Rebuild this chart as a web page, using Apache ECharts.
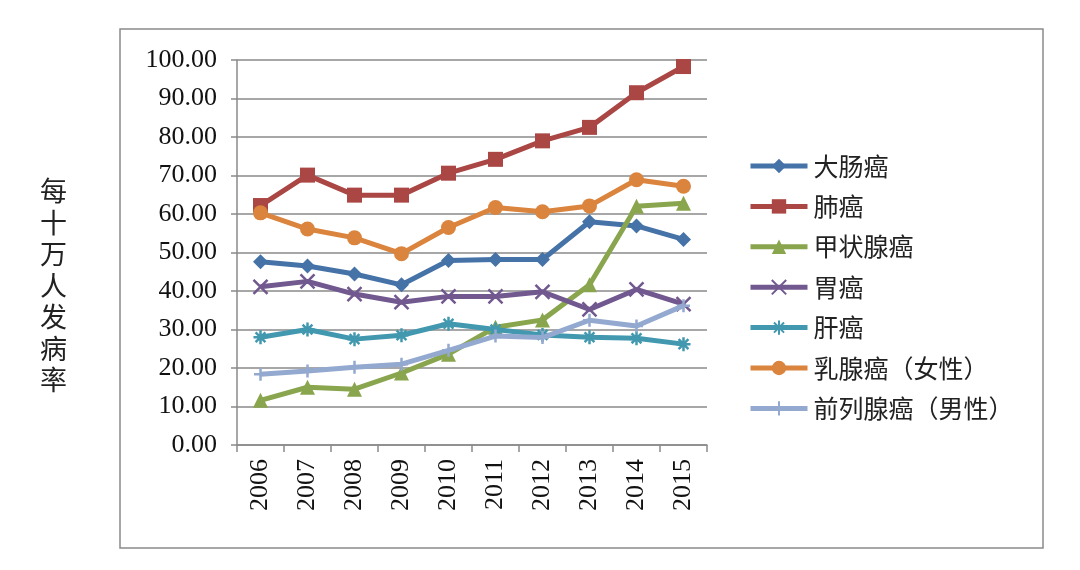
<!DOCTYPE html>
<html>
<head>
<meta charset="utf-8">
<script src="https://cdn.jsdelivr.net/npm/echarts@6/dist/echarts.min.js"></script>
<style>html,body{margin:0;padding:0;background:#fff;}#c{width:1080px;height:570px;}</style>
</head>
<body>
<div id="c"></div>
<script>
const years = ['2006','2007','2008','2009','2010','2011','2012','2013','2014','2015'];
const names = ['大肠癌','肺癌','甲状腺癌','胃癌','肝癌','乳腺癌（女性）','前列腺癌（男性）'];
const colorectal = [47.6, 46.5, 44.4, 41.6, 47.9, 48.2, 48.2, 58.0, 56.9, 53.4];
const lung       = [62.2, 70.1, 64.9, 64.9, 70.6, 74.2, 79.0, 82.5, 91.5, 98.3];
const thyroid    = [11.6, 15.0, 14.5, 18.7, 23.6, 30.6, 32.5, 41.6, 62.0, 62.8];
const stomach    = [41.1, 42.5, 39.2, 37.1, 38.6, 38.6, 39.8, 35.2, 40.4, 36.6];
const liver      = [28.0, 30.0, 27.5, 28.5, 31.5, 30.0, 28.6, 28.0, 27.7, 26.2];
const breast     = [60.3, 56.1, 53.8, 49.7, 56.5, 61.7, 60.6, 62.1, 68.9, 67.2];
const prostate   = [18.4, 19.2, 20.2, 21.0, 24.6, 28.3, 27.9, 32.4, 30.9, 36.2];
const yTitle = '每十万人发病率';

const colors = ['#4572A7','#AA4643','#89A54E','#71588F','#4198AF','#DB843D','#93A9CF'];
const xPath = 'path://M0,0 L10,10 M10,0 L0,10';
const starPath = 'path://M0,5 L10,5 M5,0 L5,10 M1.5,1.5 L8.5,8.5 M8.5,1.5 L1.5,8.5';
const plusPath = 'path://M0,5 L10,5 M5,0 L5,10';
const symbols = ['diamond','rect','triangle',xPath,starPath,'circle',plusPath];
const sizes = [15,15,15,14,14,15,13];
const datas = [colorectal,lung,thyroid,stomach,liver,breast,prostate];

const series = names.map((n,i)=>{
  const strokeOnly = (i===3||i===4||i===6);
  return {
    name:n, type:'line', data:datas[i],
    symbol:symbols[i], symbolSize:sizes[i],
    showAllSymbol:true,
    lineStyle:{color:colors[i], width:5},
    itemStyle: strokeOnly ? {color:colors[i], borderColor:colors[i], borderWidth:2.5} : {color:colors[i]},
    z: 2 + i
  };
});

const chart = echarts.init(document.getElementById('c'), null, {renderer:'canvas'});
chart.setOption({
  animation:false,
  backgroundColor:'#fff',
  color:colors,
  grid:{left:237, right:373, top:60, bottom:125, containLabel:false},
  xAxis:{
    type:'category', data:years, boundaryGap:true,
    axisLine:{lineStyle:{color:'#8a8a8a', width:1.5}},
    axisTick:{show:true, alignWithLabel:false, length:7, lineStyle:{color:'#8a8a8a', width:1.5}},
    axisLabel:{rotate:90, margin:14, color:'#111', fontFamily:'"Liberation Serif", serif', fontSize:26}
  },
  yAxis:{
    type:'value', min:0, max:100, interval:10,
    axisLine:{show:true, lineStyle:{color:'#8a8a8a', width:1.5}},
    axisTick:{show:true, length:6, lineStyle:{color:'#8a8a8a', width:1.5}},
    splitLine:{show:true, lineStyle:{color:'#8a8a8a', width:1.5}},
    axisLabel:{margin:20, color:'#111', fontFamily:'"Liberation Serif", serif', fontSize:26,
      formatter:v=>v.toFixed(2)}
  },
  legend:{
    orient:'vertical', left:743, top:147,
    itemWidth:57, itemHeight:18, itemGap:12.4,
    lineStyle:{width:5},
    textStyle:{fontFamily:'"Noto Sans CJK SC"', fontSize:25, color:'#222', lineHeight:28, padding:[0,0,0,1]},
    data:names
  },
  graphic:[
    {type:'rect', shape:{x:120, y:29, width:923, height:519}, style:{fill:'none', stroke:'#8a8a8a', lineWidth:1.5}, silent:true},
    {type:'text', left:40, top:175, style:{text:yTitle.split('').join('\n'), font:'27px "Noto Sans CJK SC"', fill:'#222', lineHeight:31.5}}
  ],
  series:series
});
</script>
</body>
</html>
